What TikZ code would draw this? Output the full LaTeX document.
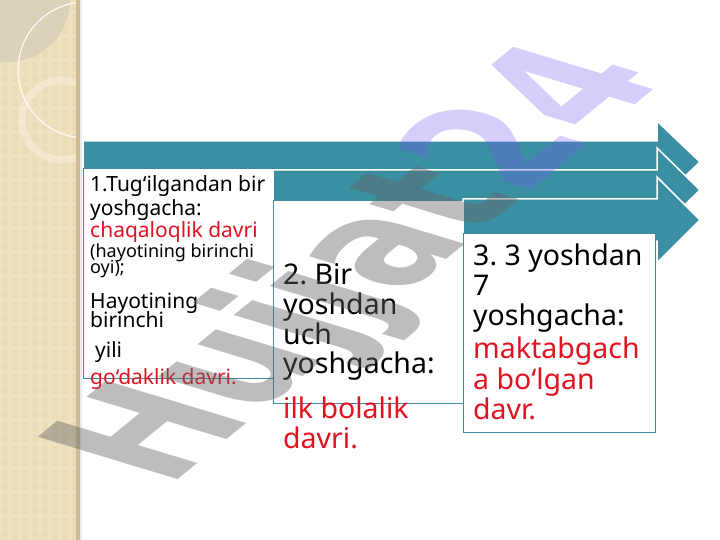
\documentclass[tikz,border=0pt]{standalone}
\usepackage{fontspec}
\setmainfont{Noto Sans}
\newfontfamily\wmfont{DejaVu Sans}[BoldFont={DejaVu Sans Bold}]
\definecolor{tealA}{RGB}{58,143,163}
\definecolor{boxline}{RGB}{62,138,158}
\definecolor{redtxt}{RGB}{228,18,32}
\definecolor{beige}{RGB}{238,225,190}
\definecolor{beigedark}{RGB}{219,209,184}
\definecolor{beigegrid}{RGB}{234,220,182}
\definecolor{panelshadow}{RGB}{205,188,150}
\definecolor{wmgray}{RGB}{100,100,100}
\definecolor{wmlav}{RGB}{120,90,240}
\tikzset{
  arrowshape/.style={fill=tealA, draw=white, line width=1.5pt, line join=miter},
  stagebox/.style={fill=white, draw=boxline, line width=1.2pt, inner sep=0pt, anchor=north west},
  lineA/.style={anchor=base west, inner sep=0pt, font=\fontsize{21}{23}\selectfont},
  lineS/.style={anchor=base west, inner sep=0pt, font=\fontsize{18}{20}\selectfont},
  lineB/.style={anchor=base west, inner sep=0pt, font=\fontsize{28.5}{30}\selectfont},
  redline/.style={text=redtxt},
  wmtext/.style={anchor=base west, inner sep=0pt, transform shape, font=\wmfont\fontsize{130}{132}\selectfont\bfseries}
}
\frenchspacing
\begin{document}
\begin{tikzpicture}[x=1pt,y=-1pt]
\useasboundingbox (0,0) rectangle (720,540);
\fill[white] (0,0) rectangle (720,540);
% left decorative panel
\begin{scope}
  \clip (0,0) rectangle (78,540);
  \fill[beige] (0,0) rectangle (78,540);
  \foreach \gx in {2,12,...,72} {
    \foreach \gy in {2,14,...,540} {
      \fill[beigegrid] (\gx,\gy) rectangle ++(6,9);
    }
  }
  \fill[beigedark] (8,0) circle (62);
  \draw[white, line width=1.2pt, opacity=0.9] (86,70) circle (68);
  \draw[white, line width=7pt, opacity=0.3] (62,120) circle (40);
\end{scope}
\fill[panelshadow] (76,0) rectangle (80,540);
\fill[black!8] (80,0) rectangle (82,540);

% stacked arrows and boxes
\path[arrowshape] (83,141) -- (657,141) -- (657,121) -- (700,162) -- (657,203) -- (657,183) -- (83,183) -- cycle;
\node[stagebox, minimum width=190pt, minimum height=210pt] (b1) at (83,168) {};
\path[arrowshape] (273,170) -- (657,170) -- (657,148) -- (700,190) -- (657,232) -- (657,210) -- (273,210) -- cycle;
\node[stagebox, minimum width=190pt, minimum height=203pt] (b2) at (273,200) {};
\path[arrowshape] (463,199) -- (657,199) -- (657,177) -- (700,220) -- (657,263) -- (657,241) -- (463,241) -- cycle;
\node[stagebox, minimum width=192pt, minimum height=199pt] (b3) at (463,233) {};

% box 1 text
\node[lineA] (t1a) at (90,192) {1.Tug‘ilgandan bir};
\node[lineA] (t1b) at (90,215) {yoshgacha:};
\node[lineA, redline] (t1c) at (90,237) {chaqaloqlik davri};
\node[lineS] (t1d) at (90,257) {(hayotining birinchi};
\node[lineS] (t1e) at (90,273) {oyi);};
\node[lineA] (t1f) at (90,308) {Hayotining};
\node[lineA] (t1g) at (90,327) {birinchi};
\node[lineA] (t1h) at (95,357) {yili};
\node[lineA, redline] (t1i) at (90,384) {go‘daklik davri.};

% box 2 text
\node[lineB] (t2a) at (283,284) {2. Bir};
\node[lineB] (t2b) at (283,314) {yoshdan};
\node[lineB] (t2c) at (283,344) {uch};
\node[lineB] (t2d) at (283,373) {yoshgacha:};
\node[lineB, redline] (t2e) at (283,418) {ilk bolalik};
\node[lineB, redline] (t2f) at (283,448) {davri.};

% box 3 text
\node[lineB] (t3a) at (473,265) {3. 3 yoshdan};
\node[lineB] (t3b) at (473,295) {7};
\node[lineB] (t3c) at (473,325) {yoshgacha:};
\node[lineB, redline] (t3d) at (473,358) {maktabgach};
\node[lineB, redline] (t3e) at (473,389) {a bo‘lgan};
\node[lineB, redline] (t3f) at (473,419) {davr.};

% watermark
\begin{scope}[cm={0.807,0.661,-1.478,0.447,(168,488)}]
  \node[wmtext, text=wmgray, text opacity=0.42] (wma) at (0,0) {Hujjat};
  \node[wmtext, text=wmlav, text opacity=0.3] (wmb) at (wma.base east) {24};
\end{scope}
\end{tikzpicture}
\end{document}
